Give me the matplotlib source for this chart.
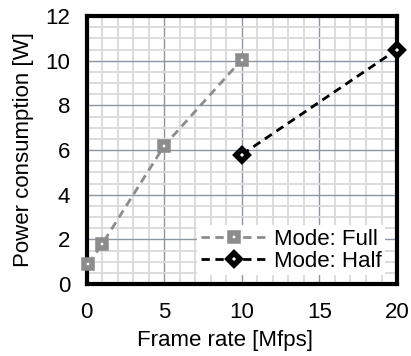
import matplotlib
matplotlib.use("Agg")
import matplotlib.pyplot as plt
from matplotlib.ticker import MultipleLocator

plt.rcParams['font.family'] = ['Liberation Sans', 'DejaVu Sans']

full_x = [0.1, 1, 5, 10]
full_y = [0.9, 1.8, 6.2, 10.05]
half_x = [10, 20]
half_y = [5.8, 10.5]
x_ticks = [0, 5, 10, 15, 20]
y_ticks = [0, 2, 4, 6, 8, 10, 12]

fig = plt.figure(figsize=(4.11, 3.56), dpi=100)
ax = fig.add_axes([0.211, 0.202, 0.755, 0.753])

ax.set_xlim(0, 20)
ax.set_ylim(0, 12)
ax.set_xticks(x_ticks)
ax.set_yticks(y_ticks)
ax.xaxis.set_minor_locator(MultipleLocator(1))
ax.yaxis.set_minor_locator(MultipleLocator(0.5))
ax.grid(which='minor', color='#d9d9d9', linewidth=1.3, zorder=0)
ax.grid(which='major', color='#8c96a3', linewidth=1.0, zorder=0)
ax.set_axisbelow(True)
ax.tick_params(which='both', length=0, labelsize=16)
ax.tick_params(axis='y', pad=12)
ax.tick_params(axis='x', pad=13)

for s in ax.spines.values():
    s.set_linewidth(3)
    s.set_color('black')

ax.plot(full_x, full_y, linestyle=(0, (3, 2)), color='#8c8c8c', linewidth=2,
        marker='s', markersize=5.5, markerfacecolor='white',
        markeredgecolor='#8c8c8c', markeredgewidth=4, label='Mode: Full',
        clip_on=False, zorder=3)
ax.plot(half_x, half_y, linestyle=(0, (3, 2)), color='black', linewidth=2,
        marker='D', markersize=6.5, markerfacecolor='white',
        markeredgecolor='black', markeredgewidth=4, label='Mode: Half',
        clip_on=False, zorder=3)

leg = ax.legend(loc='lower right', bbox_to_anchor=(0.962, 0.033),
                fontsize=16, frameon=True, fancybox=False,
                edgecolor='none', facecolor='white', framealpha=1,
                handlelength=3.0, handletextpad=0.3, borderpad=0.15,
                labelspacing=0.05, borderaxespad=0)

ax.set_xlabel('Frame rate [Mfps]', fontsize=16)
ax.xaxis.set_label_coords(0.445, -0.172)
ax.set_ylabel('Power consumption [W]', fontsize=16, labelpad=8)

fig.savefig('out.png', dpi=100)
